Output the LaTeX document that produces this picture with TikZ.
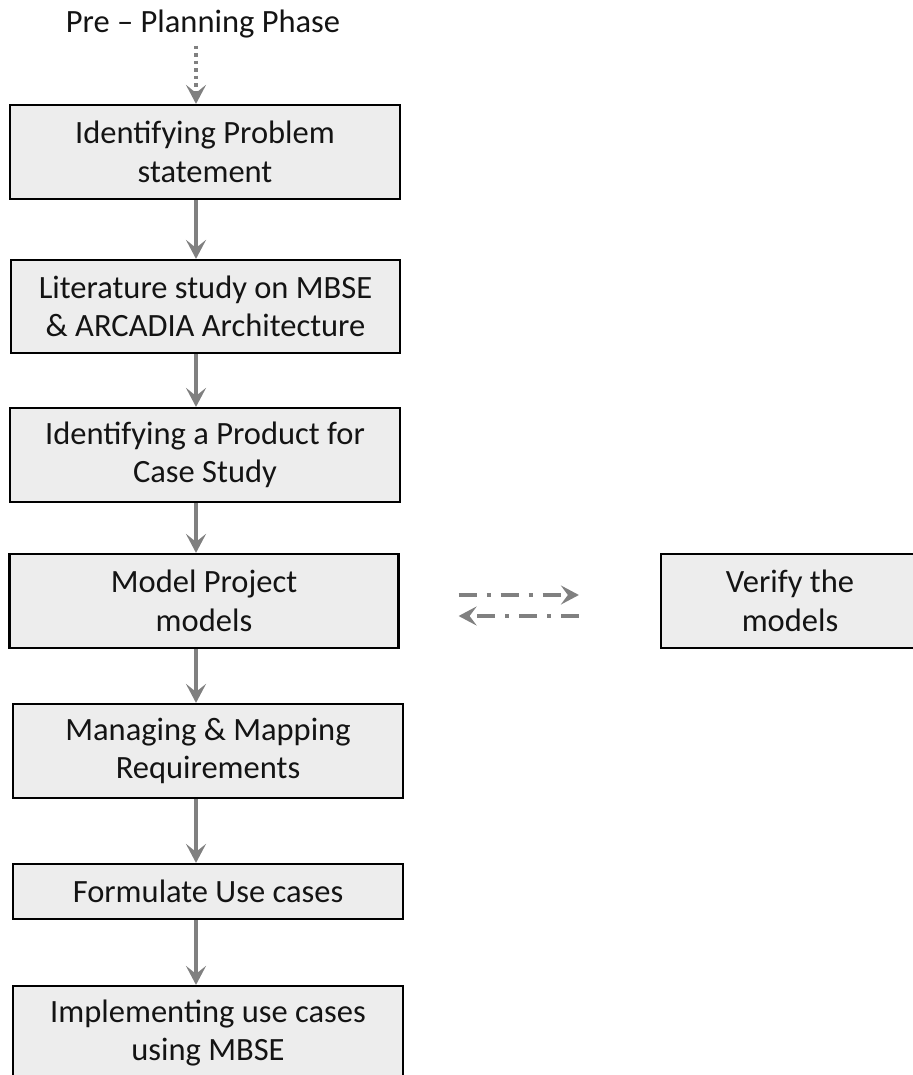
\documentclass[tikz,border=0pt]{standalone}
\usepackage{fontspec}
\setmainfont{Carlito}
\usetikzlibrary{arrows.meta}
\definecolor{boxfill}{HTML}{EDEDED}
\definecolor{flowgray}{HTML}{808080}
\definecolor{inkdark}{HTML}{141414}
\begin{document}
\begin{tikzpicture}[x=1pt,y=-1pt,
  stage/.style={draw=black, line width=2.2pt, fill=boxfill, text=inkdark,
    align=center, inner sep=0pt, font=\fontsize{32.5}{38.5}\selectfont},
  flow/.style={draw=flowgray, line width=3.2pt,
    -{Stealth[length=19pt,width=20pt,inset=8pt]}},
  dotflow/.style={draw=flowgray, line width=3.6pt,
    dash pattern=on 3.5pt off 4pt,
    -{Stealth[length=19pt,width=20pt,inset=8pt]}},
  dashdot/.style={draw=flowgray, line width=3.4pt,
    dash pattern=on 18pt off 10pt on 4pt off 10pt,
    -{Stealth[length=18pt,width=19pt,inset=7pt]}}
]
\useasboundingbox (0,0) rectangle (912,1075);

\node[text=inkdark, font=\fontsize{32.5}{38.5}\selectfont] (pre) at (203,24) {Pre – Planning Phase};

\node[stage, minimum width=390pt, minimum height=94pt] (b1) at (205,152) {Identifying Problem\\statement};
\node[stage, minimum width=389pt, minimum height=93pt] (b2) at (205.5,306.5) {Literature study on MBSE\\\& ARCADIA Architecture};
\node[stage, minimum width=390pt, minimum height=94pt] (b3) at (205,455) {Identifying a Product for\\Case Study};
\node[stage, minimum width=389pt, minimum height=94pt] (b4) at (204,601) {Model Project\\models};
\node[stage, minimum width=390pt, minimum height=94pt] (b5) at (208,751) {Managing \& Mapping\\Requirements};
\node[stage, minimum width=390pt, minimum height=55pt] (b6) at (208,891.5) {Formulate Use cases};
\node[stage, minimum width=390pt, minimum height=94pt] (b7) at (208,1033) {Implementing use cases\\using MBSE};
\node[stage, minimum width=258pt, minimum height=94pt] (ver) at (790,601) {Verify the\\models};

% vertical line of the flow arrows
\coordinate (ax) at (196,0);

\draw[dotflow] (pre.south -| ax) ++(0,4) -- (b1.north -| ax);
\draw[flow] (b1.south -| ax) -- (b2.north -| ax);
\draw[flow] (b2.south -| ax) -- (b3.north -| ax);
\draw[flow] (b3.south -| ax) -- (b4.north -| ax);
\draw[flow] (b4.south -| ax) -- (b5.north -| ax);
\draw[flow] (b5.south -| ax) -- (b6.north -| ax);
\draw[flow] (b6.south -| ax) -- (b7.north -| ax);

% verification loop between the model and its check
\draw[dashdot, shorten <=59pt, shorten >=81pt] ([yshift=6pt]b4.east) -- ([yshift=6pt]ver.west);
\draw[dashdot, shorten <=81pt, shorten >=59pt] ([yshift=-15pt]ver.west) -- ([yshift=-15pt]b4.east);
\end{tikzpicture}
\end{document}
